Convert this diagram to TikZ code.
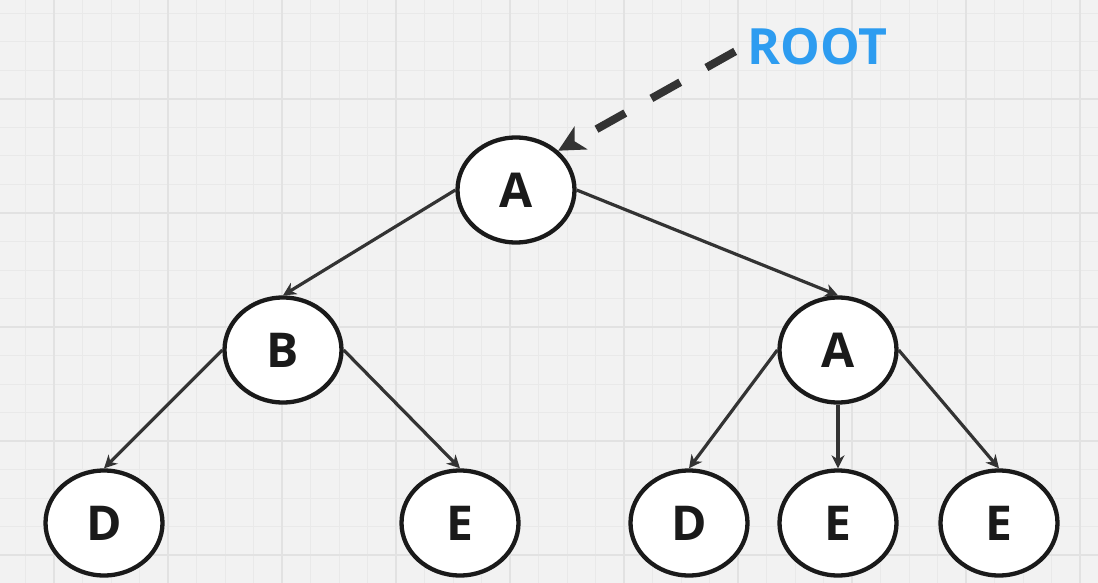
\documentclass[tikz,border=0pt]{standalone}
\usepackage{fontspec}
\setmainfont{Open Sans}
\usetikzlibrary{arrows.meta,shapes.geometric}
\definecolor{bg}{HTML}{F2F2F2}
\definecolor{gridminor}{HTML}{E9E9E9}
\definecolor{gridmajor}{HTML}{E2E2E2}
\definecolor{edgec}{HTML}{333333}
\definecolor{nodec}{HTML}{1A1A1A}
\definecolor{rootblue}{HTML}{2D9CF0}
\tikzset{
  treenode/.style={ellipse, draw=nodec, line width=4.3pt, fill=white,
    minimum width=117pt, minimum height=105pt, inner sep=0pt,
    text=nodec, font=\fontsize{48}{48}\selectfont\bfseries},
  treeedge/.style={draw=edgec, line width=3.2pt,
    -{Stealth[length=13pt,width=13pt,inset=4pt]}},
  rootedge/.style={draw=edgec, line width=8pt, dash pattern=on 33pt off 30pt,
    shorten <=9pt, -{Stealth[length=26pt,width=26pt,inset=7pt]}},
  rootlabel/.style={text=rootblue, font=\fontsize{50}{50}\selectfont\bfseries, inner sep=4pt}
}
\begin{document}
\begin{tikzpicture}[x=1pt,y=-1pt]
\useasboundingbox (0,0) rectangle (1098,583);
\fill[bg] (0,0) rectangle (1098,583);
\foreach \k in {-1,...,36} { \draw[gridminor, line width=1pt] ({54+28.5*\k},0) -- ({54+28.5*\k},583); }
\foreach \k in {0,...,20} { \draw[gridminor, line width=1pt] (0,{13.5+28.5*\k}) -- (1098,{13.5+28.5*\k}); }
\foreach \k in {0,...,9} { \draw[gridmajor, line width=1.5pt] ({54+114*\k},0) -- ({54+114*\k},583); }
\foreach \k in {0,...,4} { \draw[gridmajor, line width=1.5pt] (0,{99+114*\k}) -- (1098,{99+114*\k}); }

\node[treenode] (A) at (516,190) {A};
\node[treenode] (B) at (283,350) {B};
\node[treenode] (A2) at (838,350) {A};
\node[treenode] (D1) at (104,523) {D};
\node[treenode] (E1) at (460,523) {E};
\node[treenode] (D2) at (689,523) {D};
\node[treenode] (E2) at (838,523) {E};
\node[treenode] (E3) at (999,523) {E};

\node[rootlabel, anchor=west] (root) at (743,47) {ROOT};

\draw[treeedge] (A.west) -- (B.north);
\draw[treeedge] (A.east) -- (A2.north);
\draw[treeedge] (B.west) -- (D1.north);
\draw[treeedge] (B.east) -- (E1.north);
\draw[treeedge] (A2.west) -- (D2.north);
\draw[treeedge] (A2.south) -- (E2.north);
\draw[treeedge] (A2.east) -- (E3.north);

\draw[rootedge] (root.west) -- (A.43);
\end{tikzpicture}
\end{document}
